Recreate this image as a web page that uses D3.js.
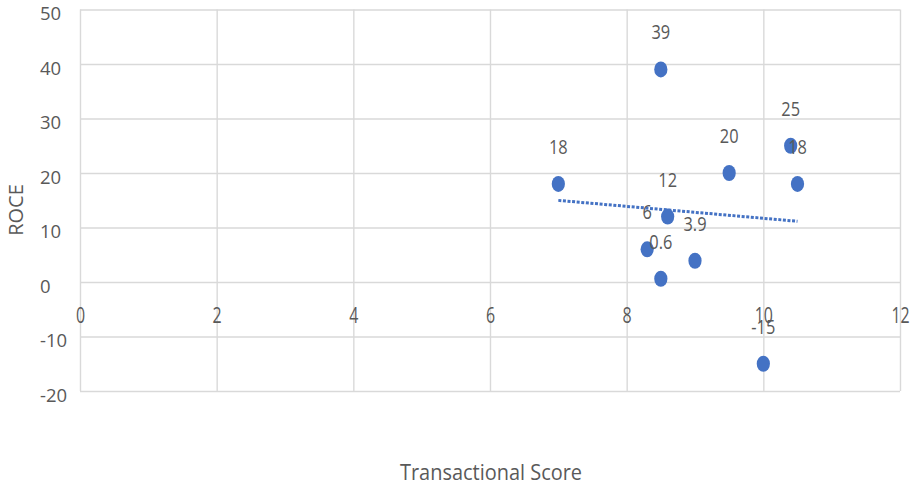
<!DOCTYPE html>
<html>
<head>
<meta charset="utf-8">
<script src="https://cdn.jsdelivr.net/npm/d3@7"></script>
<style>
  html, body { margin: 0; padding: 0; background: #fff; }
  svg { display: block; }
  text { font-family: "Open Sans", "DejaVu Sans", sans-serif; fill: #595959; }
</style>
</head>
<body>
<svg id="chart" width="913" height="488"></svg>
<script>
// Transactional score vs. ROCE
const scores = [7, 8.5, 9.5, 10.4, 10.5, 8.6, 8.3, 8.5, 9.0, 10.0];
const roce   = [18, 39, 20, 25, 18, 12, 6, 0.6, 3.9, -15];
const pointLabels = ["18", "39", "20", "25", "18", "12", "6", "0.6", "3.9", "-15"];
const xTicks = [0, 2, 4, 6, 8, 10, 12];
const yTicks = [-20, -10, 0, 10, 20, 30, 40, 50];
const xTitle = "Transactional Score";
const yTitle = "ROCE";

const svg = d3.select("#chart");
const plot = { left: 80, right: 900, top: 9.5, bottom: 391 };

const x = d3.scaleLinear().domain([0, 12]).range([plot.left, plot.right]);
const y = d3.scaleLinear().domain([-20, 50]).range([plot.bottom, plot.top]);

const gridColor = "#d9d9d9";
const plain = d => String(d);   // hyphen-minus, no typographic minus

// horizontal gridlines + y tick labels (left-aligned in a fixed column)
const gy = svg.append("g")
  .attr("transform", `translate(${plot.left},0)`)
  .call(d3.axisLeft(y).tickValues(yTicks).tickFormat(plain)
    .tickSize(-(plot.right - plot.left)).tickPadding(0));
gy.select(".domain").remove();
gy.selectAll(".tick line").attr("stroke", gridColor).attr("stroke-width", 1.4);
gy.selectAll(".tick text")
  .attr("font-size", 18.5).attr("dy", "0.55em")
  .attr("x", 40 - plot.left).attr("text-anchor", "start")
  .style("font-family", "'Open Sans', sans-serif").attr("fill", "#595959");

// vertical gridlines
const gx = svg.append("g")
  .attr("transform", `translate(0,${plot.bottom})`)
  .call(d3.axisBottom(x).tickValues(xTicks).tickSize(-(plot.bottom - plot.top)).tickFormat(""));
gx.select(".domain").remove();
gx.selectAll(".tick line").attr("stroke", gridColor).attr("stroke-width", 1.4);

// x tick labels sit below the zero line
const gxl = svg.append("g")
  .attr("transform", `translate(0,${y(0)})`)
  .call(d3.axisBottom(x).tickValues(xTicks).tickFormat(plain).tickSize(0).tickPadding(0));
gxl.select(".domain").remove();
gxl.selectAll(".tick text")
  .attr("font-size", 21).attr("dy", 0).attr("y", 0)
  .attr("transform", "translate(0,41) scale(0.76,1)")
  .style("font-family", "'Open Sans', sans-serif")
  .attr("fill", "#595959");

// linear trendline (least squares)
const n = scores.length;
const mx = d3.mean(scores), my = d3.mean(roce);
let sxy = 0, sxx = 0;
for (let i = 0; i < n; i++) {
  sxy += (scores[i] - mx) * (roce[i] - my);
  sxx += (scores[i] - mx) ** 2;
}
const slope = sxy / sxx, intercept = my - slope * mx;
const [x0, x1] = d3.extent(scores);
svg.append("line")
  .attr("x1", x(x0)).attr("y1", y(intercept + slope * x0))
  .attr("x2", x(x1)).attr("y2", y(intercept + slope * x1))
  .attr("stroke", "#4472C4").attr("stroke-width", 3)
  .attr("stroke-dasharray", "3,1.6");

// points
const pts = scores.map((s, i) => ({ s, r: roce[i], label: pointLabels[i] }));
svg.append("g").selectAll("ellipse").data(pts).join("ellipse")
  .attr("cx", d => x(d.s)).attr("cy", d => y(d.r))
  .attr("rx", 6.6).attr("ry", 8)
  .attr("fill", "#4472C4");

// value labels above points
svg.append("g").selectAll("text").data(pts).join("text")
  .attr("transform", d => `translate(${x(d.s)},${y(d.r) - 30}) scale(0.82,1)`)
  .attr("text-anchor", "middle")
  .attr("font-size", 20)
  .text(d => d.label);

// axis titles
svg.append("text")
  .attr("transform", `translate(491,480) scale(0.95,1)`)
  .attr("text-anchor", "middle")
  .attr("font-size", 21)
  .text(xTitle);

svg.append("text")
  .attr("transform", `translate(23,210) rotate(-90)`)
  .attr("text-anchor", "middle")
  .attr("font-size", 20)
  .text(yTitle);
</script>
</body>
</html>
